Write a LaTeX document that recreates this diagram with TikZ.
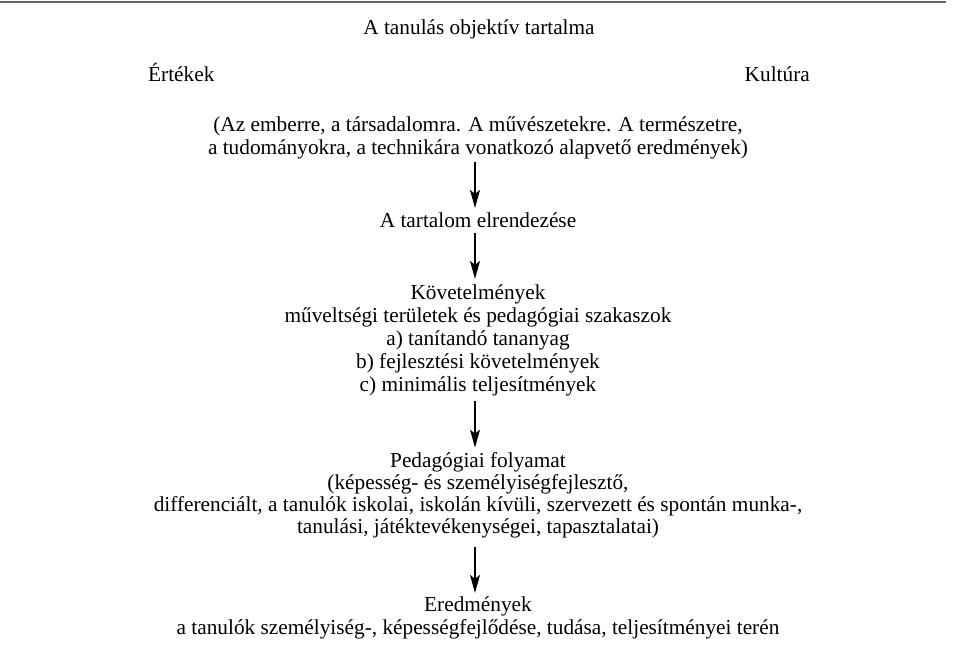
\documentclass[tikz,border=0pt]{standalone}
\usepackage{fontspec}
\setmainfont{Liberation Serif}
\usetikzlibrary{arrows.meta,calc}
\begin{document}
\begin{tikzpicture}[x=1pt,y=-1pt,
  txt/.style={inner sep=0pt,align=center,anchor=north,font=\fontsize{21.3}{23}\selectfont},
  side/.style={inner sep=0pt,anchor=base,font=\fontsize{21.3}{23}\selectfont},
  arr/.style={line width=1.2pt,-{Stealth[length=18pt,width=10pt,inset=4pt]}}]
\useasboundingbox (0,0) rectangle (957,650);
\draw[line width=2pt,black!60] (0,2) -- (946,2);
% struts: height 0.7*23 = 16.1, depth 6.9
\node[txt] (title) at (479,34-16.1) {\strut A tanulás objektív tartalma};
\node[side,anchor=base west] (ert) at (148,82) {Értékek};
\node[side,anchor=base east] (kul) at (810,82) {Kultúra};
\node[txt] (par) at (478,131-16.1) {\strut(Az emberre, a társadalomra. A művészetekre. A természetre,\\
  a tudományokra, a technikára vonatkozó alapvető eredmények)\strut};
\node[txt] (elr) at (478,227-16.1) {\strut A tartalom elrendezése\strut};
\node[txt] (kov) at (478,299-16.1) {\strut Követelmények\\
  műveltségi területek és pedagógiai szakaszok\\
  a) tanítandó tananyag\\
  b) fejlesztési követelmények\\
  c) minimális teljesítmények\strut};
\node[txt,font=\fontsize{21.3}{22}\selectfont] (ped) at (478,467-15.4) {\strut Pedagógiai folyamat\\
  (képesség- és személyiségfejlesztő,\\
  differenciált, a tanulók iskolai, iskolán kívüli, szervezett és spontán munka-,\\
  tanulási, játéktevékenységei, tapasztalatai)\strut};
\node[txt] (ere) at (478,611-16.1) {\strut Eredmények\\
  a tanulók személyiség-, képességfejlődése, tudása, teljesítményei terén\strut};
\draw[arr] ($(par.south)+(-3,1)$) -- ($(elr.north)+(-3,-3)$);
\draw[arr] ($(elr.south)+(-3,-1)$) -- ($(kov.north)+(-3,-4)$);
\draw[arr] ($(kov.south)+(-3,3)$) -- ($(ped.north)+(-3,-4)$);
\draw[arr] ($(ped.south)+(-3,7)$) -- ($(ere.north)+(-3,-2)$);
\end{tikzpicture}
\end{document}
